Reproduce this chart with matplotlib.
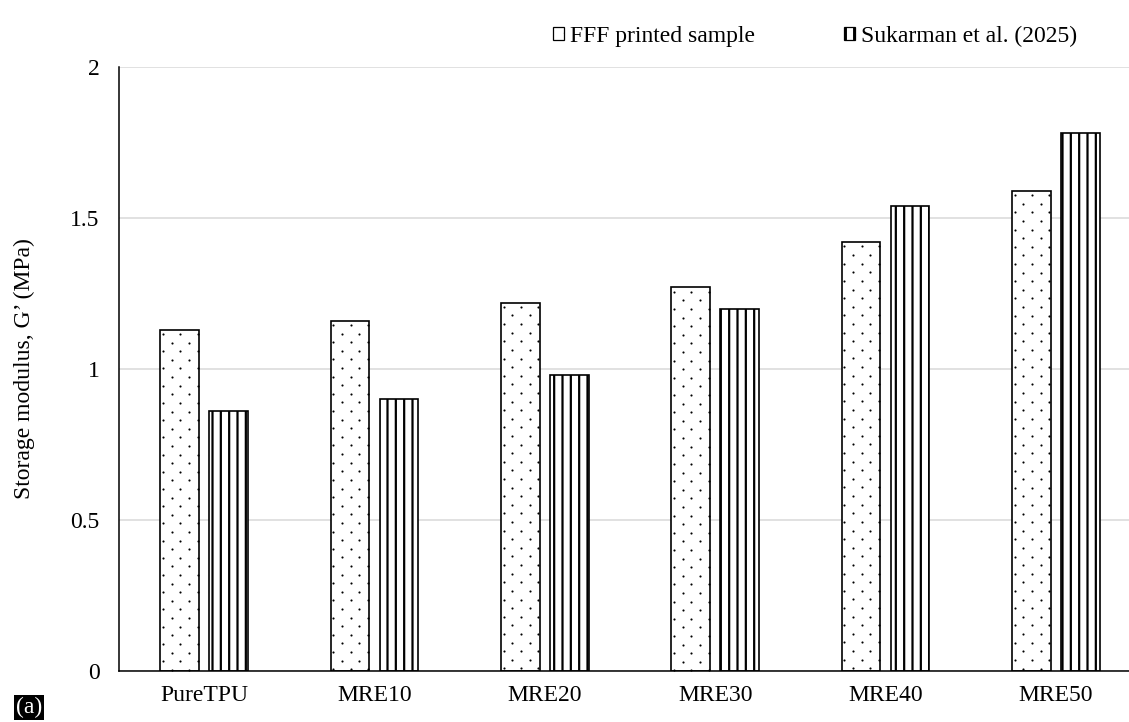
import matplotlib
matplotlib.use('Agg')
import numpy as np
from matplotlib import pyplot as plt
from matplotlib.patches import Patch

categories = ['PureTPU', 'MRE10', 'MRE20', 'MRE30', 'MRE40', 'MRE50']
fff_printed = [1.13, 1.16, 1.22, 1.27, 1.42, 1.59]
sukarman_2025 = [0.86, 0.90, 0.98, 1.20, 1.54, 1.78]
series_names = ['FFF printed sample', 'Sukarman et al. (2025)']
y_ticks = [0, 0.5, 1, 1.5, 2]
y_tick_labels = ['0', '0.5', '1', '1.5', '2']

plt.rcParams['font.family'] = ['Liberation Serif', 'DejaVu Serif']
plt.rcParams['hatch.linewidth'] = 1.6
plt.rcParams['hatch.color'] = 'black'


def add_dots(ax, bar, dx=0.1015, dy=0.0285):
	# staggered dot fill, clipped to the bar outline
	x0 = bar.get_x()
	w = bar.get_width()
	top = bar.get_height()
	pts = []
	for k, yy in enumerate(np.arange(top - dy / 2, 0, -dy)):
		start = x0 + 0.015 + (dx / 2 if k % 2 else 0)
		for xx in np.arange(start, x0 + w, dx):
			pts.append((xx, yy))
	pts = np.array(pts)
	ax.scatter(pts[:, 0], pts[:, 1], s=2.4, c='black', linewidths=0,
		zorder=3)


fig = plt.figure(figsize=(11.29, 7.22), dpi=100)
ax = fig.add_axes([0.1054, 0.0706, 0.9053, 0.8366])

x = np.arange(len(categories))
bw = 0.226
bars1 = ax.bar(x - 0.144, fff_printed, bw, facecolor='white',
	edgecolor='black', linewidth=1.2, zorder=2)
bars2 = ax.bar(x + 0.144, sukarman_2025, bw, facecolor='white',
	edgecolor='black', hatch='||', linewidth=1.2, zorder=2)
for b in bars1:
	add_dots(ax, b)

ax.set_xlim(-0.5, 5.5)
ax.set_ylim(0, 2)
ax.set_xticks(x)
ax.set_xticklabels(categories)
ax.set_yticks(y_ticks)
ax.set_yticklabels(y_tick_labels)
ax.tick_params(axis='both', length=0, labelsize=17)
ax.tick_params(axis='y', pad=14)
ax.tick_params(axis='x', pad=10)

ax.yaxis.grid(True, color='#d9d9d9', linewidth=1.1)
ax.set_axisbelow(True)
for s in ['top', 'right']:
	ax.spines[s].set_visible(False)
for s in ['left', 'bottom']:
	ax.spines[s].set_linewidth(1.1)
	ax.spines[s].set_zorder(4)

ax.set_ylabel('Storage modulus, G’ (MPa)', fontsize=17)
ax.yaxis.set_label_coords(-0.082, 0.5)

handles = [
	Patch(facecolor='white', edgecolor='black', hatch='.', linewidth=0.9),
	Patch(facecolor='white', edgecolor='black', hatch='||', linewidth=0.9),
]
fig.legend(handles, series_names, loc='center left',
	bbox_to_anchor=(553 / 1129, 1 - 36 / 722), ncol=2, frameon=False,
	fontsize=17, handlelength=0.47, handleheight=0.47, handletextpad=0.25,
	columnspacing=3.75, borderpad=0, borderaxespad=0)

fig.text(0.0142, 1 - 697 / 722, '(a)', color='white', fontsize=17,
	ha='left', va='top',
	bbox=dict(facecolor='black', edgecolor='none', pad=1.5))

fig.savefig('out.png', dpi=100)
